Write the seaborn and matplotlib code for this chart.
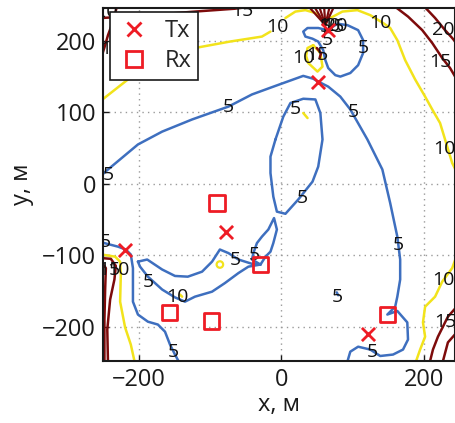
import numpy as np
import pandas as pd
import matplotlib
matplotlib.use("Agg")
import matplotlib.pyplot as plt
from matplotlib.lines import Line2D
import seaborn as sns

# ---------------- data (data units in metres) -------------
tx_x = [66, 52, -219, -77, 122]
tx_y = [215, 143, -92, -67, -210]
rx_x = [-90, -29, -157, -98, 149]
rx_y = [-27, -113, -180, -192, -183]

# level 5 contour pieces (blue)
b1_x = [-252, -243, -201, -167, -125, -74, -41, -8, 31, 45, 52, 66, 83, 97, 121, 142, 153, 163, 167, 167, 163, 160, 149, 163, 177, 178, 171, 157, 139, 125, 108, 97, 92]
b1_y = [12, 20, 55, 73, 90, 108, 125, 137, 151, 147, 143, 136, 122, 104, 62, 20, -27, -74, -106, -134, -158, -172, -183, -178, -194, -218, -232, -239, -241, -232, -228, -235, -252]
b2_x = [-8, 3, 13, 31, 48, 55, 58, 52, 44, 24, 6, -6, -11, -15, -15, -8]
b2_y = [62, 94, 113, 119, 118, 99, 62, 24, 3, -22, -42, -39, -18, 15, 38, 62]
b3_x = [-29, -22, -15, -11, -6, -10, -18, -27, -34, -39, -41, -29]
b3_y = [-113, -102, -95, -83, -64, -48, -64, -74, -83, -97, -106, -113]
b4_x = [-201, -188, -167, -149, -131, -111, -97, -86, -74, -60, -41, -29,
        -46, -60, -79, -97, -121, -135, -149, -167, -187, -198, -201]
b4_y = [-109, -106, -120, -129, -130, -123, -109, -92, -97, -106, -112, -113,
        -116, -125, -139, -151, -158, -165, -159, -148, -130, -116, -109]
b5_x = [-252, -229, -218, -211, -208, -208, -201, -187, -173, -163, -156, -149, -142]
b5_y = [-82, -88, -92, -99, -118, -165, -183, -193, -197, -207, -225, -239, -252]
b6_x = [65, 52, 37, 31, 34, 44, 52, 59, 62, 66, 76, 83, 97, 108, 115, 115, 108, 93, 79, 65]
b6_y = [215, 218, 218, 213, 206, 203, 199, 187, 173, 162, 152, 150, 155, 166, 183, 201, 215, 222, 224, 215]
b7_x = [78, 80]
b7_y = [-152, -156]

# level 10 contour pieces (yellow)
y1_x = [-252, -215, -187, -156, -121, -72, -27, -15]
y1_y = [117, 146, 173, 185, 190, 199, 206, 213]
y1b_x = [6, 20, 34, 48, 59]
y1b_y = [232, 241, 243, 239, 227]
y2_x = [69, 86, 107, 125, 143, 153, 163, 174, 188, 202, 212, 223, 230, 240, 248]
y2_y = [232, 241, 243, 236, 225, 218, 201, 173, 146, 122, 104, 85, 62, 29, 13]
y3_x = [248, 240, 226, 216, 202, 199, 202, 195, 188]
y3_y = [-96, -118, -137, -158, -172, -194, -214, -232, -252]
y4_x = [-252, -233, -226, -225, -226, -219, -211, -205]
y4_y = [-99, -102, -109, -127, -165, -201, -225, -252]
y5_x = [45, 37, 35, 38, 51, 58, 55, 45]
y5_y = [194, 190, 179, 169, 157, 164, 183, 194]
y6_x = [31, 37]
y6_y = [99, 92]
y7_x = [-142, -139]
y7_y = [-155, -158]
ring_x = [-86]
ring_y = [-113]

# level 15 / 20 contour pieces (dark red)
r1_x = [-252, -184, -121, -65, -27]
r1_y = [232, 236, 241, 245, 250]
r0_x = [-252, -247, -243, -236, -230]
r0_y = [178, 194, 208, 227, 250]
r2_x = [157, 178, 198, 212, 226, 237, 250]
r2_y = [250, 234, 215, 197, 176, 162, 140]
r3_x = [199, 216, 230, 240, 250]
r3_y = [250, 232, 215, 204, 192]
r4_x = [250, 234, 220, 213, 208]
r4_y = [-168, -186, -214, -232, -252]
r5_x = [250, 234, 226]
r5_y = [-204, -222, -252]
r6_x = [-252, -239, -232, -234, -240, -244, -243]
r6_y = [-104, -105, -115, -134, -162, -204, -252]
r7_x = [-252, -246, -247, -248, -248]
r7_y = [-110, -118, -148, -190, -252]
fan_top_x = [35, 44, 52, 60, 69, 76]
fan_src = (62, 222)
r8_x = [50, 56, 54]
r8_y = [190, 183, 176]

# contour level labels: (x, y, text)
lab_x = [-243, -74, 101, 164, 128, 20, 30, -187, -146, -65, -37, -247, -152, 79, 65, 115,
         -6, 31, 51, 139, 229, 227, -55, -246, 223, 227, 230, -241, -228, -239,
         62, 68, 73, 78]
lab_y = [12, 108, 101, -86, -236, 104, -20, -137, -158, -106, -99, -81, -235, -158, 201, 190,
         220, 176, 180, 225, 48, -134, 242, 240, 171, 215, -193, -120, -120, 188,
         219, 221, 219, 221]
lab_t = ["5", "5", "5", "5", "5", "5", "5", "5", "10", "5", "5", "5", "5", "5", "5", "5",
         "10", "10", "15", "10", "10", "10", "15", "20", "15", "20", "15", "15", "10", "15",
         "5", "10", "15", "20"]

BLUE = "#3e6fbf"
YEL = "#f2e31b"
DRED = "#7d0b0b"
RED = "#ee1c25"

sns.set_theme(style="white")
plt.rcParams["font.family"] = ["Open Sans", "DejaVu Sans"]

fig = plt.figure(figsize=(4.56, 4.23), dpi=100)
ax = fig.add_axes([0.2259, 0.1466, 0.772, 0.8345])

LW = 1.8

def draw(xs, ys, col, lw=LW):
    df = pd.DataFrame({"x": xs, "y": ys})
    sns.lineplot(data=df, x="x", y="y", sort=False, estimator=None, color=col,
                 lw=lw, ax=ax, legend=False, zorder=2)

for xs, ys in [(b1_x, b1_y), (b2_x, b2_y), (b3_x, b3_y), (b4_x, b4_y), (b5_x, b5_y),
               (b6_x, b6_y), (b7_x, b7_y)]:
    draw(xs, ys, BLUE)
for xs, ys in [(y1_x, y1_y), (y1b_x, y1b_y), (y2_x, y2_y), (y3_x, y3_y), (y4_x, y4_y),
               (y5_x, y5_y), (y6_x, y6_y), (y7_x, y7_y)]:
    draw(xs, ys, YEL)
for xs, ys in [(r1_x, r1_y), (r0_x, r0_y), (r2_x, r2_y), (r3_x, r3_y), (r4_x, r4_y),
               (r5_x, r5_y), (r6_x, r6_y), (r7_x, r7_y), (r8_x, r8_y)]:
    draw(xs, ys, DRED)
for fx in fan_top_x:
    draw([fan_src[0], fx], [fan_src[1], 252], DRED, lw=1.6)

sns.scatterplot(x=ring_x, y=ring_y, marker="o", s=22, facecolor="none",
                edgecolor=YEL, linewidth=1.6, ax=ax, zorder=3)

for x, y, t in zip(lab_x, lab_y, lab_t):
    ax.text(x, y, t, fontsize=14, ha="center", va="center", color="#111111",
            clip_on=True, zorder=4)

sns.scatterplot(x=tx_x, y=tx_y, marker="x", s=90, color=RED, linewidth=2.0,
                ax=ax, zorder=5)
sns.scatterplot(x=rx_x, y=rx_y, marker="s", s=120, facecolor="none",
                edgecolor=RED, linewidth=2.0, ax=ax, zorder=5)

ax.set_xlim(-250, 244)
ax.set_ylim(-248, 246)
ax.set_xticks([-200, 0, 200])
ax.set_yticks([-200, -100, 0, 100, 200])
ax.grid(True, linestyle=(0, (1, 3)), color="#9a9a9a", lw=1.0)
ax.set_axisbelow(True)
for s in ax.spines.values():
    s.set_color("#1a1a1a")
    s.set_linewidth(1.5)
ax.tick_params(axis="both", labelsize=17, direction="in", length=4, width=1,
               colors="#1a1a1a", pad=5, left=True, bottom=True)
ax.set_xlabel("x, м", fontsize=17, labelpad=1, color="#1a1a1a")
ax.set_ylabel("y, м", fontsize=17, labelpad=6, color="#1a1a1a")

handles = [Line2D([], [], ls="none", marker="x", color=RED, markersize=10, mew=2.0),
           Line2D([], [], ls="none", marker="s", markerfacecolor="none",
                  markeredgecolor=RED, markersize=11, mew=2.0)]
leg = ax.legend(handles, ["Tx", "Rx"], loc="upper left", bbox_to_anchor=(0.02, 0.989),
                borderaxespad=0, fontsize=17, fancybox=False, framealpha=1,
                edgecolor="#1a1a1a", handlelength=1.4, handletextpad=0.6,
                labelspacing=0.25, borderpad=0.3)
leg.get_frame().set_linewidth(1.2)
leg.set_zorder(10)

fig.savefig("out.png", dpi=100)
